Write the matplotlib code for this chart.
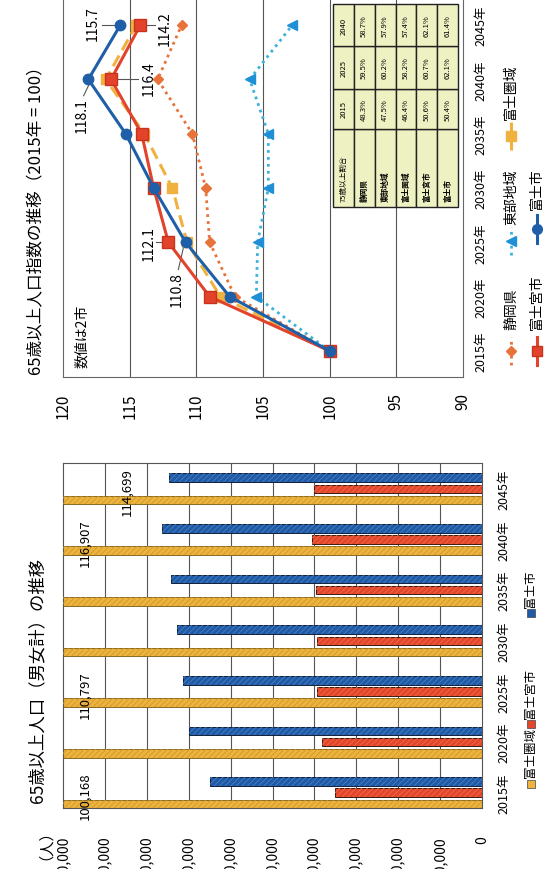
import matplotlib.pyplot as plt
from matplotlib.lines import Line2D
from matplotlib.patches import Rectangle
import numpy as np

plt.rcParams['font.family'] = ['Noto Sans CJK JP', 'DejaVu Sans']
plt.rcParams['hatch.linewidth'] = 0.6

W, H = 552, 870

years = ['2015年', '2020年', '2025年', '2030年', '2035年', '2040年', '2045年']

# 65歳以上人口指数（2015年=100）
idx_shizuoka = [100, 107.1, 109.0, 109.3, 110.3, 112.9, 111.1]
idx_tobu = [100, 105.5, 105.4, 104.6, 104.6, 106.0, 102.8]
idx_fuji_area = [100, 108.2, 110.7, 111.8, 113.9, 116.8, 114.5]
idx_fujinomiya = [100, 109.0, 112.1, 113.2, 114.1, 116.4, 114.2]
idx_fuji = [100, 107.5, 110.8, 113.2, 115.3, 118.1, 115.7]

# 65歳以上人口（人）
pop_fuji_area = [100168, 108300, 110797, 112000, 113900, 116907, 114699]
pop_fujinomiya = [35200, 38300, 39400, 39300, 39500, 40600, 40100]
pop_fuji = [65000, 69900, 71400, 72800, 74300, 76300, 74600]

# 75歳以上割合（%）
ratio_regions = ['静岡県', '東部地域', '富士圏域', '富士宮市', '富士市']
ratio_years = ['2015', '2025', '2040']
ratio_2015 = [48.3, 47.5, 46.4, 50.6, 50.4]
ratio_2025 = [59.5, 60.2, 58.2, 60.7, 62.1]
ratio_2040 = [58.7, 57.9, 57.4, 62.1, 61.4]

C_SHIZ = '#e8733a'
C_TOBU = '#3cb2dc'
C_TOBU_M = '#1f8fd6'
C_AREA = '#f0b23e'
C_MIYA = '#e2432a'
C_FUJI = '#1f5fa8'


def fx(x):
    return x / W


def fy(y):
    return 1 - y / H


fig = plt.figure(figsize=(W / 100, H / 100), dpi=100, facecolor='white')
pos = np.arange(len(years))

# ---- 指数の推移（横倒し） ----
ax1 = fig.add_axes([fx(63), fy(378), (463 - 63) / W, 378 / H])
ax1.set_xlim(120, 90)
ax1.set_ylim(-0.48, 6.48)
ticks1 = [120, 115, 110, 105, 100, 95, 90]
ax1.set_xticks(ticks1)
ax1.set_xticklabels([str(t) for t in ticks1], rotation=90, fontsize=11)
ax1.tick_params(axis='x', length=0, pad=11)
ax1.yaxis.tick_right()
ax1.set_yticks(pos)
ax1.set_yticklabels(years, rotation=90, va='center', fontsize=9)
ax1.tick_params(axis='y', length=0, pad=8)
for v in [115, 110, 105, 100, 95]:
    ax1.axvline(v, color='#555555', lw=0.8, zorder=1)
for s in ax1.spines.values():
    s.set_color('#666666')
    s.set_linewidth(0.8)
ax1.spines['top'].set_visible(False)

ax1.plot(idx_shizuoka, pos, ls=(0, (1, 1.5)), lw=2.0, color=C_SHIZ,
         marker='D', ms=5.5, mfc=C_SHIZ, mec=C_SHIZ, zorder=3)
ax1.plot(idx_tobu, pos, ls=(0, (1, 1.5)), lw=2.0, color=C_TOBU,
         marker='<', ms=6.5, mfc=C_TOBU_M, mec=C_TOBU_M, zorder=3)
ax1.plot(idx_fuji_area, pos, ls=(0, (4, 2)), lw=2.2, color=C_AREA,
         marker='s', ms=7.5, mfc=C_AREA, mec=C_AREA, zorder=4)
ax1.plot(idx_fujinomiya, pos, ls='-', lw=2.2, color=C_MIYA,
         marker='s', ms=8, mfc=C_MIYA, mec='#c8321f', zorder=5)
ax1.plot(idx_fuji, pos, ls='-', lw=2.2, color=C_FUJI,
         marker='o', ms=7.5, mfc=C_FUJI, mec=C_FUJI, zorder=6)

# 数値ラベル（2市）: (系列, 年, 文字位置, 引出線)
notes = [
    (idx_fuji, 6, (117.75, 6.05), [(115.9, 6.0), (117.1, 6.0)]),
    (idx_fujinomiya, 6, (112.4, 5.95), [(113.9, 6.0), (113.1, 6.0)]),
    (idx_fujinomiya, 5, (113.6, 5.03), [(115.9, 5.0), (114.4, 5.0)]),
    (idx_fuji, 5, (118.6, 4.36), [(118.0, 4.93), (118.45, 4.7)]),
    (idx_fujinomiya, 2, (113.55, 2.0), [(112.35, 2.0), (113.0, 2.0)]),
    (idx_fuji, 2, (111.45, 1.14), [(110.95, 1.92), (111.35, 1.5)]),
]
for series, i, (tx, ty), leader in notes:
    (x0, y0), (x1, y1) = leader
    ax1.plot([x0, x1], [y0, y1], color='#555555', lw=0.8, zorder=2)
    ax1.text(tx, ty, f'{series[i]:.1f}', rotation=90, ha='center',
             va='center', fontsize=10, zorder=7)

fig.text(fx(82), fy(368), '数値は2市', rotation=90, ha='center',
         va='bottom', fontsize=10)
fig.text(fx(37), fy(375), '65歳以上人口指数の推移（2015年 = 100）',
         rotation=90, ha='center', va='bottom', fontsize=12)

# 凡例（手描き）
legend1 = [
    (511, 352, 330, '静岡県', dict(ls=(0, (1, 1.5)), lw=2.0, color=C_SHIZ),
     dict(marker='D', ms=5.5, mfc=C_SHIZ, mec=C_SHIZ)),
    (511, 242, 225, '東部地域', dict(ls=(0, (1, 1.5)), lw=2.0, color=C_TOBU),
     dict(marker='<', ms=6.5, mfc=C_TOBU_M, mec=C_TOBU_M)),
    (511, 137, 120, '富士圏域', dict(ls=(0, (4, 2)), lw=2.2, color=C_AREA),
     dict(marker='s', ms=6.5, mfc=C_AREA, mec=C_AREA)),
    (537, 352, 330, '富士宮市', dict(ls='-', lw=2.2, color=C_MIYA),
     dict(marker='s', ms=7.5, mfc=C_MIYA, mec='#c8321f')),
    (537, 230, 210, '富士市', dict(ls='-', lw=2.2, color=C_FUJI),
     dict(marker='o', ms=7, mfc=C_FUJI, mec=C_FUJI)),
]
for x, ym, yt, label, lstyle, mstyle in legend1:
    fig.add_artist(Line2D([fx(x), fx(x)], [fy(ym + 14), fy(ym - 14)],
                          transform=fig.transFigure, **lstyle))
    fig.add_artist(Line2D([fx(x)], [fy(ym)], transform=fig.transFigure,
                          ls='none', **mstyle))
    fig.text(fx(x), fy(yt), label, rotation=90, ha='center', va='bottom',
             fontsize=10)

# 75歳以上割合の表
axt = fig.add_axes([fx(333), fy(208), (458 - 333) / W, (208 - 5) / H])
axt.set_xlim(0, 6)
axt.set_ylim(0, 203)
axt.axis('off')
bounds = [0, 78, 118, 161, 203]
header = ['75歳以上割合'] + ratio_years
cols = [ratio_2015, ratio_2025, ratio_2040]
for r in range(6):
    for c in range(4):
        axt.add_patch(Rectangle((r, bounds[c]), 1, bounds[c + 1] - bounds[c],
                                facecolor='#eef1c2', edgecolor='#222222',
                                lw=1.0, clip_on=False))
        xc = r + 0.5
        if r == 0:
            txt = header[c]
        elif c == 0:
            txt = ratio_regions[r - 1]
        else:
            txt = f'{cols[c - 1][r - 1]:.1f}%'
        if c == 0:
            axt.text(xc, 6, txt, rotation=90, ha='center', va='bottom',
                     fontsize=5.5, fontweight='bold' if r else 'normal')
        else:
            axt.text(xc, (bounds[c] + bounds[c + 1]) / 2, txt, rotation=90,
                     ha='center', va='center', fontsize=5.5)

# ---- 65歳以上人口（横倒し棒グラフ） ----
ax2 = fig.add_axes([fx(63), fy(809), (482 - 63) / W, (809 - 464) / H])
ax2.set_xlim(100000, 0)
ax2.set_ylim(-0.30, 6.51)
ticks2 = list(range(0, 100001, 10000))
ax2.set_xticks(ticks2)
ax2.set_xticklabels([f'{t:,}' for t in ticks2], rotation=90, fontsize=10)
ax2.tick_params(axis='x', length=0, pad=19.5)
ax2.yaxis.tick_right()
ax2.set_yticks(pos)
ax2.set_yticklabels(years, rotation=90, va='center', fontsize=9)
ax2.tick_params(axis='y', length=0, pad=11)
for t in ticks2[1:-1]:
    ax2.axvline(t, color='#555555', lw=0.8, zorder=1)
for s in ax2.spines.values():
    s.set_color('#555555')
    s.set_linewidth(0.8)

bar_h = 0.17
bars = [
    (pop_fuji_area, -0.22, '#ecb43e', '#d1962a', '#8a6a20'),
    (pop_fujinomiya, 0.0, '#e2462b', '#f06a4a', '#3a1a10'),
    (pop_fuji, 0.22, '#1f5aa6', '#4a7fc2', '#10203c'),
]
for vals, off, fc, hc, ec in bars:
    ax2.barh(pos + off, vals, height=bar_h, color=fc, edgecolor=ec, lw=0.7,
             zorder=2)
    ax2.barh(pos + off, vals, height=bar_h, color='none', edgecolor=hc,
             lw=0, hatch='//////', zorder=3)

label_x = {0: 94700, 2: 94700, 5: 94700, 6: 84700}
for i, xv in label_x.items():
    ax2.text(xv, i - 0.05, f'{pop_fuji_area[i]:,}', rotation=90,
             ha='center', va='center', fontsize=9.5, zorder=5)

fig.text(fx(37), fy(837), '（人）', rotation=90, ha='center', va='center',
         fontsize=11)
fig.text(fx(37), fy(803), '65歳以上人口（男女計）の推移', rotation=90,
         ha='center', va='bottom', fontsize=12.5)

legend2 = [(785, 778, '富士圏域', '#ecb43e'),
           (725, 719, '富士宮市', '#e2462b'),
           (614, 608, '富士市', '#1f5aa6')]
for ym, yt, label, col in legend2:
    fig.add_artist(Line2D([fx(531)], [fy(ym)], transform=fig.transFigure,
                          ls='none', marker='s', ms=5.5, mfc=col,
                          mec='#444444', mew=0.5))
    fig.text(fx(531), fy(yt), label, rotation=90, ha='center', va='bottom',
             fontsize=9)

fig.savefig('out.png', dpi=100, facecolor='white')
